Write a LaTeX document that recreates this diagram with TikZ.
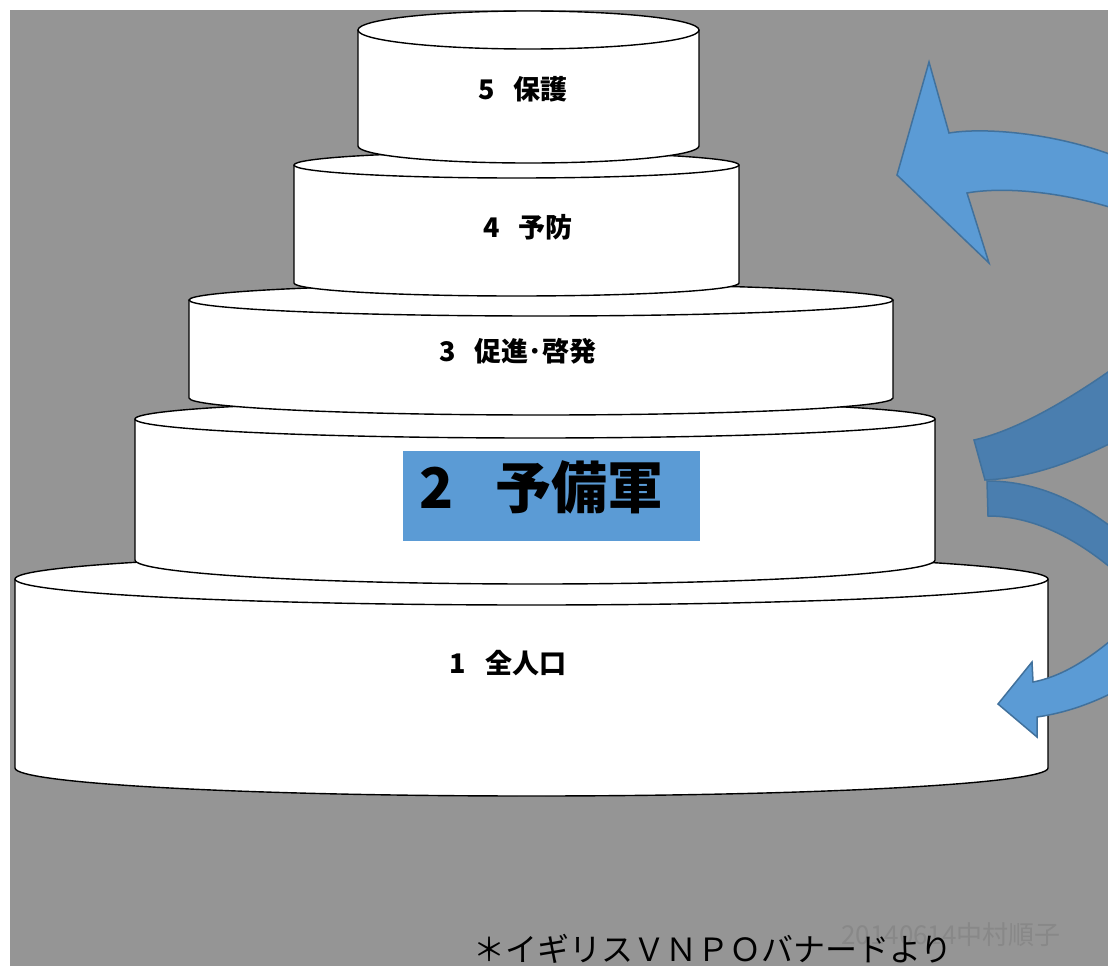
\documentclass[tikz,border=0pt]{standalone}
\usepackage{fontspec}
\newfontfamily\jp{Noto Sans CJK JP}
\definecolor{bg}{RGB}{149,149,149}
\definecolor{abright}{RGB}{91,155,213}
\definecolor{adark}{RGB}{74,126,175}
\definecolor{aedge}{RGB}{65,113,156}
\definecolor{wm}{RGB}{136,136,136}
\tikzset{
  cylline/.style={draw=black, line width=1.4pt},
  arrowbright/.style={fill=abright, draw=aedge, line width=1.5pt, line join=miter},
  arrowdark/.style={fill=adark, draw=aedge, line width=1.5pt, line join=miter},
  lab/.style={inner sep=0pt, font=\jp\bfseries\fontsize{27pt}{27pt}\selectfont},
}
\newcommand\drawcyl[6]{%
  \fill[white] (#1-#2,#3) rectangle (#1+#2,#5);
  \fill[white] (#1,#5) ellipse [x radius=#2pt, y radius=#6pt];
  \draw[cylline] (#1-#2,#3) -- (#1-#2,#5) arc[start angle=180, end angle=360, x radius=#2pt, y radius=#6pt] -- (#1+#2,#3);
  \draw[cylline, fill=white] (#1,#3) ellipse [x radius=#2pt, y radius=#4pt];
}
\begin{document}
\begin{tikzpicture}[x=1pt,y=-1pt]
\useasboundingbox (0,0) rectangle (1108,966);
\fill[white] (0,0) rectangle (1108,966);
\fill[bg] (10,10) rectangle (1108,966);
\begin{scope}
\clip (10,10) rectangle (1108,966);
% cylinders, bottom to top
\drawcyl{531.5}{516.5}{579}{26}{768}{28}
\drawcyl{535}{400}{419}{19}{560}{24}
\drawcyl{541}{352}{300}{16}{398}{17}
\drawcyl{516.5}{222.5}{165}{13}{283}{13}
\drawcyl{528.5}{170.5}{30}{19}{146}{17}
% labels
\node[lab] (l5) at (523,89) {5\hspace{0.7em}保護};
\node[lab] (l4) at (528,227) {4\hspace{0.7em}予防};
\node[lab] (l3) at (518,351) {3\hspace{0.7em}促進･啓発};
\node[lab] (l1) at (508,663) {1\hspace{0.7em}全人口};
\node[fill=abright, minimum width=297pt, minimum height=90pt, inner sep=0pt, anchor=north west] (box) at (403,451) {};
\node[anchor=west, inner sep=0pt, font=\jp\bfseries\fontsize{56pt}{56pt}\selectfont] (l2) at (419,487) {2\hspace{0.75em}予備軍};
% arrows
\draw[arrowbright] (897,175) -- (929,62) -- (949,133) .. controls (985,127) and (1060,133) .. (1125,160) -- (1125,212) .. controls (1060,190) and (1000,187) .. (967,193) -- (989,263) -- cycle;
\draw[arrowdark] (1125,360) .. controls (1060,407) and (1010,432) .. (974,440) -- (985,480) .. controls (1030,478) and (1075,462) .. (1125,436) -- cycle;
\draw[arrowdark] (987,481) .. controls (1035,481) and (1080,500) .. (1125,538) -- (1125,580) .. controls (1075,535) and (1030,516) .. (988,516) -- cycle;
\draw[arrowbright] (1125,628) .. controls (1090,660) and (1060,677) .. (1033,682) -- (1032,662) -- (998,704) -- (1037,737) -- (1037,717) .. controls (1065,713) and (1095,703) .. (1125,686) -- cycle;
% texts at bottom
\node[inner sep=0pt, text=wm, font=\jp\fontsize{26pt}{26pt}\selectfont] (wmark) at (951,935) {20140614中村順子};
\node[anchor=base west, inner sep=0pt, font=\jp\fontsize{32pt}{32pt}\selectfont] (note) at (473,961) {＊イギリスＶＮＰＯバナードより};
\end{scope}
\end{tikzpicture}
\end{document}
